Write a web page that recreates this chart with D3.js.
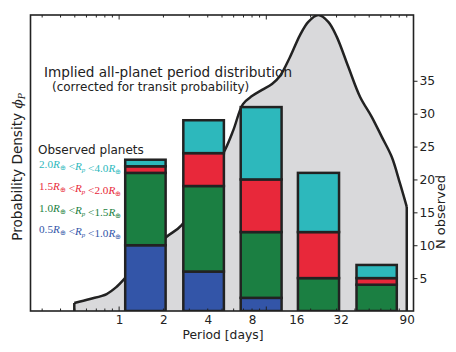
<!DOCTYPE html>
<html lang="en">
<head>
  <meta charset="UTF-8">
  <title>Period distribution</title>
  <script src="https://cdn.jsdelivr.net/npm/d3@7"></script>
  <style>
    body { margin: 0; background: #fff; }
    text { font-family: "DejaVu Sans", sans-serif; fill: #222; }
  </style>
</head>
<body>
<script>
((window, document) => {
  "use strict";

  /**
   * ---------------------------------------------------------------------
   *  Data
   * ---------------------------------------------------------------------
   */

  // period bins of the observed planets [days]
  const binLo = [1.1, 2.73, 6.7, 16.4, 41];
  const binHi = [2.07, 5.15, 12.7, 31.2, 77];

  // N observed per bin, by planet radius
  const nR05to10 = [10, 6, 2, 0, 0];
  const nR10to15 = [11, 13, 10, 5, 4];
  const nR15to20 = [1, 5, 8, 7, 1];
  const nR20to40 = [1, 5, 11, 9, 2];

  const radiusLo = ["0.5", "1.0", "1.5", "2.0"];
  const radiusHi = ["1.0", "1.5", "2.0", "4.0"];
  const radiusColors = ["#3355a8", "#1b7f42", "#e8283a", "#2db8bc"];

  // implied all-planet distribution
  const curvePeriod = [0.496, 0.634, 0.823, 0.963, 1.096, 1.5, 2.105, 2.661, 3.71, 5.24,
    5.97, 6.94, 7.99, 9.35, 10.93, 12.39, 14.49, 16.94, 19.29, 22.55, 26.37, 30.07,
    36.05, 43.3, 52.0, 60.8, 71.1, 80.96, 90];
  const curveDensity = [0.027, 0.0405, 0.0574, 0.082, 0.111, 0.186, 0.251, 0.29, 0.409, 0.544,
    0.611, 0.699, 0.726, 0.747, 0.767, 0.794, 0.858, 0.932, 0.977, 1.0, 0.977, 0.927,
    0.825, 0.724, 0.656, 0.589, 0.521, 0.431, 0.352];

  const periodTicks = [1, 2, 4, 8, 16, 32, 90];
  const periodMinor = [0.3, 0.4, 0.5, 0.6, 0.7, 0.8, 0.9, 2, 3, 4, 5, 6, 7, 8, 9,
    20, 30, 40, 50, 60, 70, 80, 90];
  const periodMajor = [1, 10];
  const countTicks = [5, 10, 15, 20, 25, 30, 35];


  /**
   * ---------------------------------------------------------------------
   *  Render
   * ---------------------------------------------------------------------
   */

  const W = 456, H = 352;
  const L = 30.5, R = 413.5, T = 15, B = 311;
  const ink = "#222";

  const x = d3.scaleLog().base(2).domain([0.25, 100]).range([L, R]);
  const yN = d3.scaleLinear().domain([0, 45]).range([B, T]);
  const yD = d3.scaleLinear().domain([0, 1]).range([B, T]);

  const svg = d3.select("body").append("svg")
    .attr("width", W).attr("height", H);

  svg.append("clipPath").attr("id", "plot")
    .append("rect").attr("x", L).attr("y", T).attr("width", R - L).attr("height", B - T);

  const plot = svg.append("g").attr("clip-path", "url(#plot)");

  // density curve
  const pts = curvePeriod.map((p, i) => [p, curveDensity[i]]);
  const area = d3.area()
    .x(d => x(d[0])).y0(B).y1(d => yD(d[1]))
    .curve(d3.curveCatmullRom.alpha(0.5));
  const line = d3.line()
    .x(d => x(d[0])).y(d => yD(d[1]))
    .curve(d3.curveCatmullRom.alpha(0.5));

  plot.append("path").datum(pts)
    .attr("d", area).attr("fill", "#d9d9db");
  plot.append("path").datum(pts)
    .attr("d", line).attr("fill", "none")
    .attr("stroke", ink).attr("stroke-width", 2.5);
  [pts[0], pts[pts.length - 1]].forEach(d => {
    plot.append("line")
      .attr("x1", x(d[0])).attr("x2", x(d[0]))
      .attr("y1", B).attr("y2", yD(d[1]))
      .attr("stroke", ink).attr("stroke-width", 2.5);
  });

  // stacked bars
  const table = binLo.map((lo, i) => ({
    lo: lo, hi: binHi[i],
    r0: nR05to10[i], r1: nR10to15[i], r2: nR15to20[i], r3: nR20to40[i]
  }));
  const series = d3.stack().keys(["r0", "r1", "r2", "r3"])(table);

  plot.selectAll("g.layer")
    .data(series)
    .join("g").attr("class", "layer")
      .attr("fill", (d, i) => radiusColors[i])
    .selectAll("rect")
    .data(d => d.filter(s => s[1] > s[0]))
    .join("rect")
      .attr("x", d => x(d.data.lo))
      .attr("width", d => x(d.data.hi) - x(d.data.lo))
      .attr("y", d => yN(d[1]))
      .attr("height", d => yN(d[0]) - yN(d[1]))
      .attr("stroke", ink).attr("stroke-width", 2.5);

  // frame
  svg.append("rect")
    .attr("x", L).attr("y", T).attr("width", R - L).attr("height", B - T)
    .attr("fill", "none").attr("stroke", ink).attr("stroke-width", 1.6);

  // log ticks, inward on top and bottom
  const tickG = svg.append("g").attr("stroke", ink).attr("stroke-width", 1);
  periodMinor.concat(periodMajor).forEach(p => {
    const len = periodMajor.includes(p) ? 4.5 : 2.5;
    tickG.append("line").attr("x1", x(p)).attr("x2", x(p)).attr("y1", T).attr("y2", T + len);
    tickG.append("line").attr("x1", x(p)).attr("x2", x(p)).attr("y1", B).attr("y2", B - len);
  });

  // bottom axis labels
  const xAxis = svg.append("g")
    .attr("transform", `translate(0,${B})`)
    .call(d3.axisBottom(x).tickValues(periodTicks).tickFormat(d3.format("d"))
      .tickSize(0).tickPadding(4));
  xAxis.select(".domain").remove();
  xAxis.selectAll("text").style("font-size", "12px").attr("fill", ink)
    .style("font-family", "DejaVu Sans");

  svg.append("text")
    .attr("x", 223).attr("y", 338.5)
    .attr("text-anchor", "middle")
    .style("font-size", "12.3px")
    .text("Period [days]");

  // right axis
  const yAxis = svg.append("g")
    .attr("transform", `translate(${R},0)`)
    .call(d3.axisRight(yN).tickValues(countTicks).tickSize(4).tickPadding(2));
  yAxis.select(".domain").remove();
  yAxis.selectAll("line").attr("stroke", ink).attr("stroke-width", 1);
  yAxis.selectAll("text").style("font-size", "12.3px").attr("fill", ink)
    .style("font-family", "DejaVu Sans");

  svg.append("text")
    .attr("transform", "translate(445,212) rotate(-90)")
    .attr("text-anchor", "middle")
    .style("font-size", "13px")
    .text("N observed");

  // left label
  const yl = svg.append("text")
    .attr("transform", "translate(22,167) rotate(-90)")
    .attr("text-anchor", "middle")
    .style("font-size", "13.6px");
  yl.append("tspan").text("Probability Density ");
  yl.append("tspan").style("font-family", "DejaVu Serif").style("font-style", "italic").text("\u03d5");
  yl.append("tspan").attr("dy", 3).style("font-size", "9px")
    .style("font-family", "DejaVu Serif").style("font-style", "italic").text("P");

  // titles
  svg.append("text").attr("x", 44).attr("y", 77)
    .style("font-size", "13.6px")
    .text("Implied all-planet period distribution");
  svg.append("text").attr("x", 52).attr("y", 91)
    .style("font-size", "12px")
    .text("(corrected for transit probability)");

  // legend
  svg.append("text").attr("x", 38).attr("y", 154)
    .style("font-size", "12px")
    .text("Observed planets");

  const legendY = [233, 211.5, 190, 168];
  radiusLo.forEach((lo, i) => {
    const t = svg.append("text")
      .attr("x", 39).attr("y", legendY[i])
      .style("fill", radiusColors[i])
      .style("font-family", "Liberation Serif")
      .style("font-size", "11.2px");
    const part = (s, italic) => t.append("tspan")
      .style("font-style", italic ? "italic" : "normal").text(s);
    const sub = (s, italic) => {
      t.append("tspan").attr("dy", 2).style("font-size", "7px")
        .style("font-style", italic ? "italic" : "normal").text(s);
      t.append("tspan").attr("dy", -2).text("");
    };
    part(lo); part("R", true); sub("\u2295");
    part(" <"); part("R", true); sub("p", true);
    part(" <" + radiusHi[i]); part("R", true); sub("\u2295");
  });

})(window, document);
</script>
</body>
</html>
